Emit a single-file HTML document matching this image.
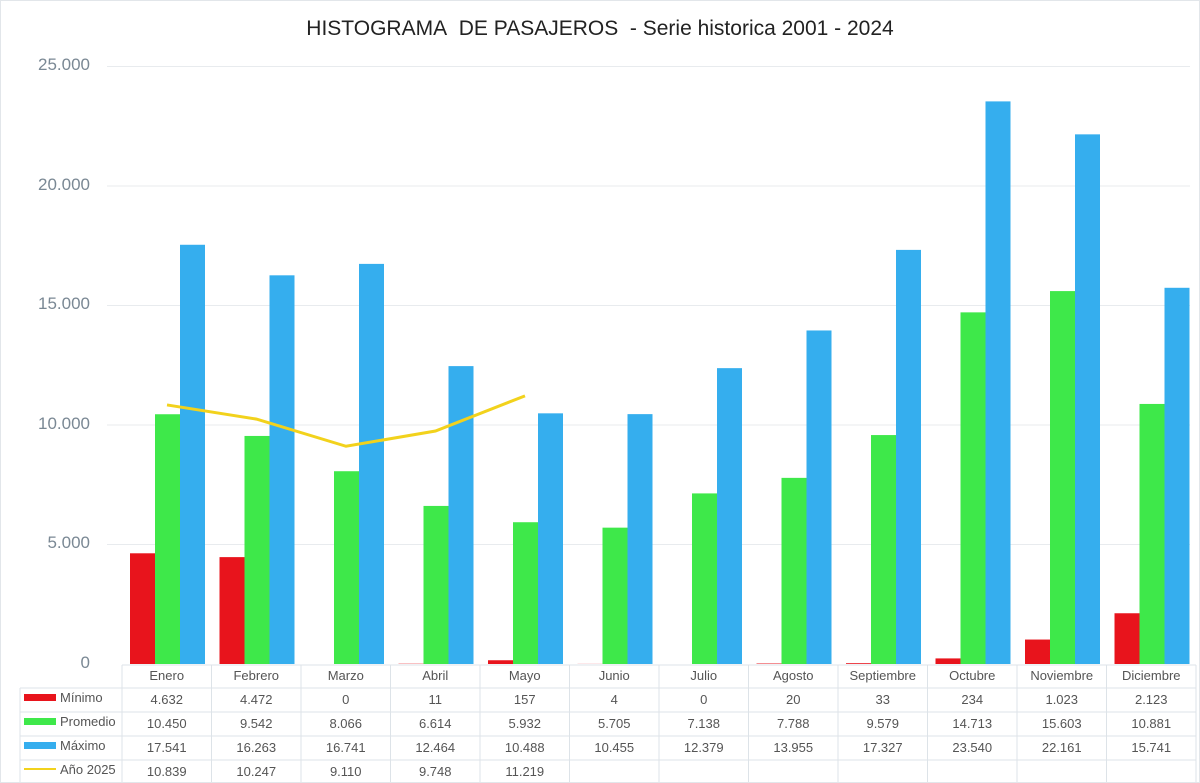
<!DOCTYPE html>
<html><head><meta charset="utf-8"><style>
body{margin:0;width:1200px;height:783px;background:#fff;position:relative;overflow:hidden;font-family:"Liberation Sans",sans-serif}
.t{position:absolute;font-size:13px;color:#555;text-align:center}
.yl{position:absolute;right:1110px;font-size:17px;color:#7a8894;text-align:right}
</style></head><body>
<svg id="s" width="1200" height="783" style="position:absolute;left:0;top:0">
<rect x="0.5" y="0.5" width="1199" height="782" fill="none" stroke="#e2e6ea"/>
<g stroke="#e8ebee" stroke-width="1">
<line x1="107" x2="1190" y1="66.5" y2="66.5"/>
<line x1="107" x2="1190" y1="186" y2="186"/>
<line x1="107" x2="1190" y1="305.5" y2="305.5"/>
<line x1="107" x2="1190" y1="425" y2="425"/>
<line x1="107" x2="1190" y1="544.5" y2="544.5"/>
</g>
<g id="bars"></g>
<g id="tbl" stroke="#dde3e8" stroke-width="1" fill="none"></g>
<polyline id="ln" fill="none" stroke="#f2d21c" stroke-width="3"/>
<rect x="24" y="694" width="32" height="7" fill="#e8141c"/>
<rect x="24" y="718" width="32" height="7" fill="#3ee84a"/>
<rect x="24" y="742" width="32" height="7" fill="#35aeee"/>
<rect x="24" y="768" width="32" height="2" fill="#f2d21c"/>
</svg>
<div style="position:absolute;top:17px;left:0;width:1200px;text-align:center;font-size:21px;color:#222">HISTOGRAMA&nbsp; DE PASAJEROS&nbsp; - Serie historica 2001 - 2024</div>
<div class="yl" style="top:55px">25.000</div>
<div class="yl" style="top:175px">20.000</div>
<div class="yl" style="top:294px">15.000</div>
<div class="yl" style="top:414px">10.000</div>
<div class="yl" style="top:533px">5.000</div>
<div class="yl" style="top:653px">0</div>
<div class="t" style="left:60px;top:690px;text-align:left">Mínimo</div>
<div class="t" style="left:60px;top:714px;text-align:left">Promedio</div>
<div class="t" style="left:60px;top:738px;text-align:left">Máximo</div>
<div class="t" style="left:60px;top:762px;text-align:left">Año 2025</div>
<div id="cells"></div>
<script>
const m=["Enero","Febrero","Marzo","Abril","Mayo","Junio","Julio","Agosto","Septiembre","Octubre","Noviembre","Diciembre"];
const mn=[4632,4472,0,11,157,4,0,20,33,234,1023,2123];
const pr=[10450,9542,8066,6614,5932,5705,7138,7788,9579,14713,15603,10881];
const mx=[17541,16263,16741,12464,10488,10455,12379,13955,17327,23540,22161,15741];
const a=[10839,10247,9110,9748,11219];
const fmt=v=>v>=1000?Math.floor(v/1000)+"."+String(v%1000).padStart(3,"0"):String(v);
const Z=664,K=597.5/25000,W=89.5,C0=122;
let b="",t="",c="",pts=[];
for(let i=0;i<12;i++){const x=C0+W*i;
[[mn,"#e8141c",8],[pr,"#3ee84a",33],[mx,"#35aeee",58]].forEach(([d,col,o])=>{const h=d[i]*K;b+=`<rect x="${x+o}" y="${Z-h}" width="25" height="${h}" fill="${col}"/>`});
if(i<5)pts.push((x+45)+","+(Z-a[i]*K));
const row=[m[i],fmt(mn[i]),fmt(pr[i]),fmt(mx[i]),i<5?fmt(a[i]):""];
row.forEach((s,r)=>{c+=`<div class="t" style="left:${x}px;width:${W}px;top:${668+r*24}px">${s}</div>`});
t+=`<line x1="${x}" x2="${x}" y1="665" y2="782"/>`;}
t+=`<line x1="1196" x2="1196" y1="665" y2="782"/>`;
for(let r=0;r<5;r++){const y=688+r*24;t+=`<line x1="${r==0?20:20}" x2="1196" y1="${y}" y2="${y}"/>`;}
t+=`<line x1="20" x2="20" y1="688" y2="782"/><line x1="122" x2="1196" y1="665" y2="665"/>`;
document.getElementById("bars").innerHTML=b;
document.getElementById("tbl").innerHTML=t;
document.getElementById("cells").innerHTML=c;
document.getElementById("ln").setAttribute("points",pts.join(" "));
</script>
</body></html>
